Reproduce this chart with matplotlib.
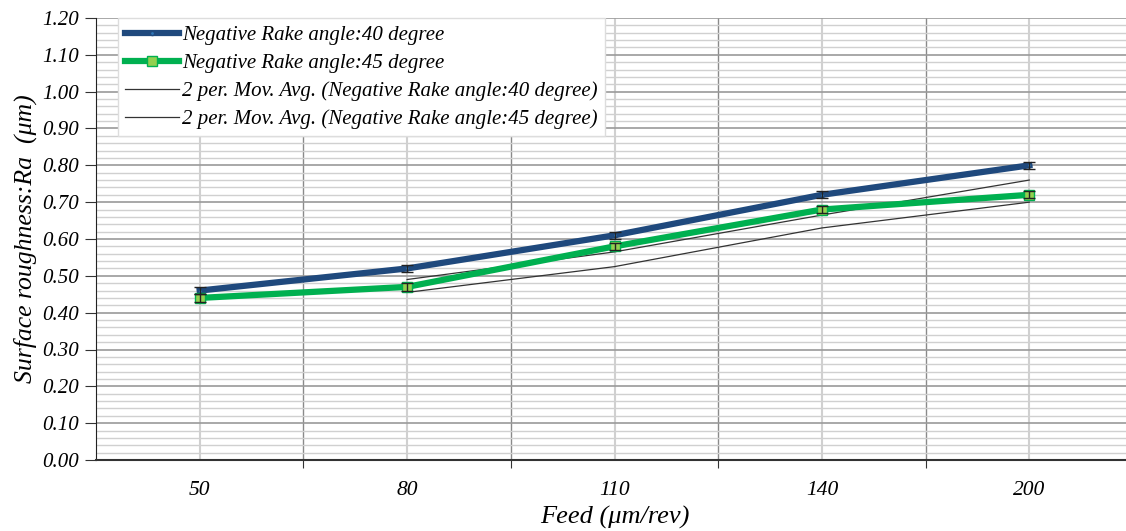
import matplotlib.pyplot as plt
from matplotlib.ticker import MultipleLocator, FixedLocator

plt.rcParams['font.family'] = ['Liberation Serif', 'DejaVu Serif']
plt.rcParams['font.style'] = 'italic'

feeds = ['50', '80', '110', '140', '200']
ra_40 = [0.46, 0.52, 0.61, 0.72, 0.80]
ra_45 = [0.44, 0.47, 0.58, 0.68, 0.72]
err_40 = [0.01, 0.01, 0.01, 0.01, 0.01]
err_45 = [0.01, 0.01, 0.01, 0.01, 0.01]
# 2 period moving averages (start at second category)
mavg_40 = [0.49, 0.565, 0.665, 0.76]
mavg_45 = [0.455, 0.525, 0.63, 0.70]

x = list(range(len(feeds)))

fig = plt.figure(figsize=(11.26, 5.31), dpi=100)
ax = fig.add_axes([96 / 1126, 71 / 531, (1133 - 96) / 1126, (460 - 18) / 531])

ax.errorbar(x, ra_40, yerr=err_40, fmt='none', ecolor='#222222', elinewidth=1,
            capsize=4, capthick=1, zorder=6)
ax.errorbar(x, ra_45, yerr=err_45, fmt='none', ecolor='#222222', elinewidth=1,
            capsize=4, capthick=1, zorder=6)
h40, = ax.plot(x, ra_40, color='#1F497D', lw=4.5, marker='o', ms=3,
               mfc='#2E75B6', mec='#1F497D', zorder=4,
               label='Negative Rake angle:40 degree')
h45, = ax.plot(x, ra_45, color='#00B050', lw=4.5, marker='s', ms=7,
               mfc='#92D050', mec='#00B050', zorder=5,
               label='Negative Rake angle:45 degree')
m40, = ax.plot(x[1:], mavg_40, color='#333333', lw=0.9, zorder=3,
               label='2 per. Mov. Avg. (Negative Rake angle:40 degree)')
m45, = ax.plot(x[1:], mavg_45, color='#333333', lw=0.9, zorder=3,
               label='2 per. Mov. Avg. (Negative Rake angle:45 degree)')

ax.set_xlim(-0.5, 4.5)
ax.set_ylim(0, 1.2)
ax.yaxis.set_major_locator(MultipleLocator(0.1))
ax.yaxis.set_minor_locator(MultipleLocator(0.02))
ax.set_yticklabels([f'{v:.2f}' for v in ax.get_yticks()])
ax.set_ylim(0, 1.2)

ax.xaxis.set_major_locator(FixedLocator([0.5, 1.5, 2.5, 3.5]))
ax.set_xticklabels([])
ax.set_xticks(x, minor=True)
ax.set_xticklabels(feeds, minor=True)
ax.tick_params(axis='x', which='major', length=6, color='#333333', direction='out')
ax.tick_params(axis='x', which='minor', length=0, pad=15, labelsize=15.5)
ax.tick_params(axis='y', which='major', length=8, labelsize=15, color='#333333', pad=4)
ax.tick_params(axis='y', which='minor', length=0)

ax.grid(True, axis='y', which='major', color='#9a9a9a', lw=1.2)
ax.grid(True, axis='y', which='minor', color='#d0d0d0', lw=1.0)
ax.grid(True, axis='x', which='major', color='#8a8a8a', lw=1.0)
ax.grid(True, axis='x', which='minor', color='#d0d0d0', lw=1.5)
ax.set_axisbelow(True)

for s in ['top', 'right']:
    ax.spines[s].set_visible(False)
ax.spines['left'].set_color('#222222')
ax.spines['bottom'].set_color('#333333')
ax.spines['bottom'].set_linewidth(1.5)

ax.set_ylabel('Surface roughness:Ra  (\u03bcm)', fontsize=18.5, labelpad=4)
fig.text(615 / 1126, 14 / 531, 'Feed (\u03bcm/rev)', fontsize=19, ha='center', va='center')

leg = ax.legend(handles=[h40, h45, m40, m45], loc='upper left',
                bbox_to_anchor=(0.021, 1.0), borderaxespad=0, fontsize=15,
                frameon=True, fancybox=False, edgecolor='#dddddd', framealpha=1,
                handlelength=2.6, handletextpad=0.15, borderpad=0.35, labelspacing=0.4)

fig.savefig('out.png', dpi=100)
